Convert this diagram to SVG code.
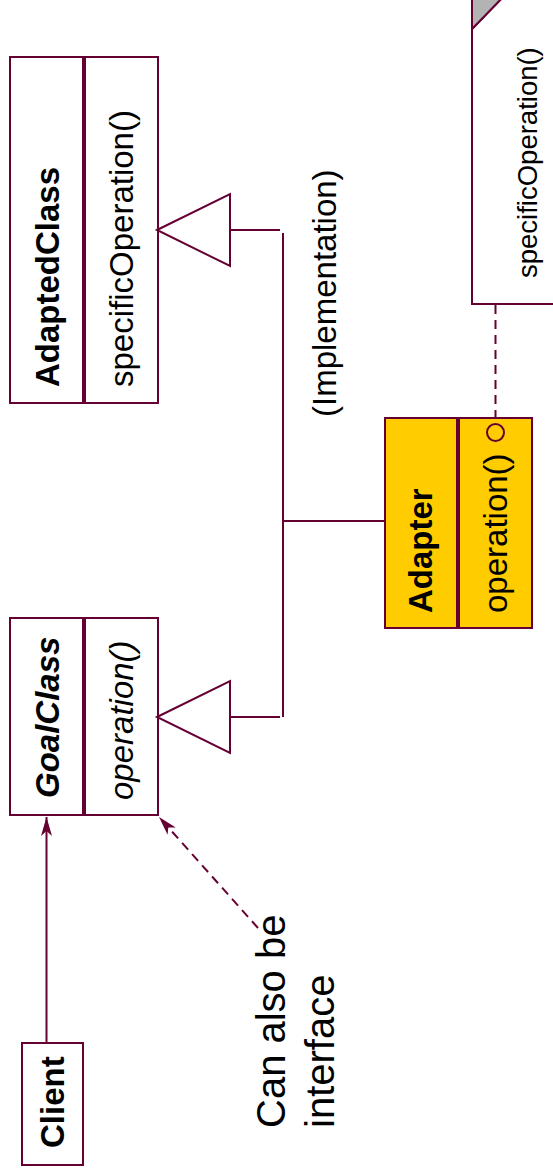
<svg xmlns="http://www.w3.org/2000/svg" width="553" height="1174" viewBox="0 0 553 1174">
<defs>
<style>
.box{fill:#ffffff;stroke:#660033;stroke-width:2}
.ybox{fill:#ffcc00;stroke:#660033;stroke-width:2}
.ln{fill:none;stroke:#660033;stroke-width:2}
.dash{fill:none;stroke:#660033;stroke-width:2;stroke-dasharray:9 6}
.t{font-family:"Liberation Sans",Arial,sans-serif;font-size:33px;fill:#000000}
.b{font-weight:bold}
.i{font-style:italic}
</style>
<marker id="arr" viewBox="0 0 20 12" refX="20" refY="6" markerWidth="20" markerHeight="12" markerUnits="userSpaceOnUse" orient="auto">
<path d="M20,6 L1,0.5 L6,6 L1,11.5 z" fill="#660033"/>
</marker>
</defs>
<rect width="553" height="1174" fill="#ffffff"/>

<g id="AdaptedClass">
<rect class="box" x="10" y="57" width="73" height="346"/>
<rect class="box" x="85" y="57" width="73" height="346"/>
<text class="t b" transform="translate(59,387) rotate(-90)">AdaptedClass</text>
<text class="t" transform="translate(133,387) rotate(-90)">specificOperation()</text>
</g>

<g id="GoalClass">
<rect class="box" x="10" y="618" width="73" height="197"/>
<rect class="box" x="85" y="618" width="73" height="197"/>
<text class="t b i" transform="translate(59,798) rotate(-90)">GoalClass</text>
<text class="t i" transform="translate(133,800) rotate(-90)">operation()</text>
</g>

<g id="Adapter">
<rect class="ybox" x="385" y="418" width="72" height="210"/>
<rect class="ybox" x="459" y="418" width="73" height="210"/>
<text class="t b" transform="translate(432,613) rotate(-90)">Adapter</text>
<text class="t" transform="translate(507,613) rotate(-90)">operation()</text>
<circle cx="495.5" cy="432.5" r="8.5" fill="none" stroke="#660033" stroke-width="2"/>
</g>

<g id="Client">
<rect class="box" x="22" y="1043" width="61" height="122"/>
<text class="t b" transform="translate(64,1148) rotate(-90)">Client</text>
</g>

<g id="Note">
<path class="box" d="M472,29 L472,304 L560,304 L560,-5 L505,-5 Z"/>
<path d="M472,29 L472,-5 L505,-5 Z" fill="#b3b3b3" stroke="#660033" stroke-width="2"/>
<text class="t" style="font-size:27.5px" transform="translate(537,278) rotate(-90)">specificOperation()</text>
</g>

<g id="labels">
<text class="t" transform="translate(336,417) rotate(-90)">(Implementation)</text>
<text class="t" style="font-size:40px" transform="translate(285,1128) rotate(-90)">Can also be</text>
<text class="t" style="font-size:40px" transform="translate(334,1128) rotate(-90)">interface</text>
</g>

<g id="connectors">
<polygon class="ln" fill="#ffffff" points="157,230 230,194 230,266"/>
<polygon class="ln" fill="#ffffff" points="157,717 230,681 230,753"/>
<line class="ln" x1="230" y1="230" x2="280" y2="230"/>
<line class="ln" x1="230" y1="717" x2="280" y2="717"/>
<line class="ln" x1="283" y1="233" x2="283" y2="717"/>
<line class="ln" x1="283" y1="521" x2="385" y2="521"/>
<line class="dash" x1="495.5" y1="305" x2="495.5" y2="418"/>
<line class="ln" x1="46.5" y1="1043" x2="46.5" y2="817" marker-end="url(#arr)"/>
<line class="dash" x1="258" y1="928" x2="159" y2="817" marker-end="url(#arr)"/>
</g>
</svg>
